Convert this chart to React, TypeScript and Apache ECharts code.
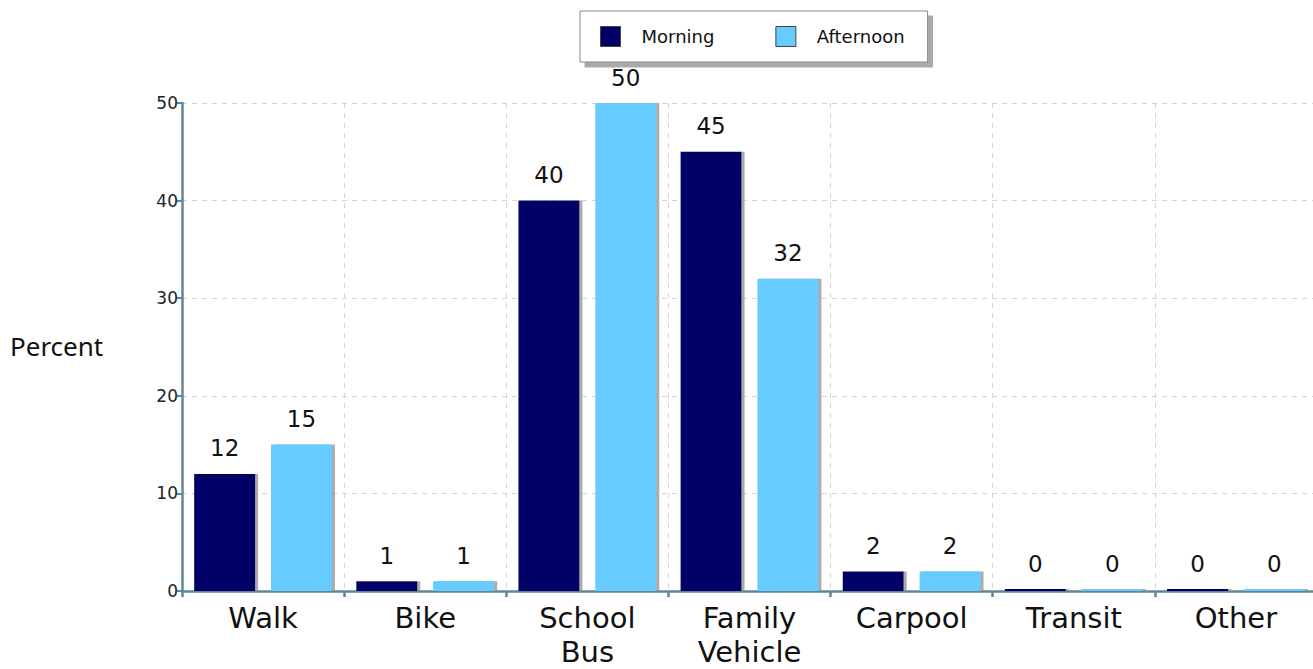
import React, { useEffect, useRef } from "react";
import * as echarts from "echarts";

const categories = ["Walk", "Bike", "School\nBus", "Family\nVehicle", "Carpool", "Transit", "Other"];
const morning = [12, 1, 40, 45, 2, 0, 0];
const afternoon = [15, 1, 50, 32, 2, 0, 0];
const yTicks = { min: 0, max: 50, interval: 10 };

const AXIS = "#5f8796";
const FONT = "DejaVu Sans, Verdana, sans-serif";

export default function App() {
  const ref = useRef<HTMLDivElement>(null);
  useEffect(() => {
    const chart = echarts.init(ref.current!, null, { renderer: "svg" });
    const barStyle = (color: string) => ({
      color,
      shadowColor: "rgba(150,150,150,0.8)",
      shadowOffsetX: 3,
      shadowOffsetY: 0,
      shadowBlur: 0,
    });
    const label = {
      show: true,
      position: "top",
      distance: 14,
      fontFamily: FONT,
      fontSize: 23,
      color: "#111",
    };
    chart.setOption({
      animation: false,
      backgroundColor: "#fff",
      textStyle: { fontFamily: FONT },
      legend: {
        top: 11,
        left: 580,
        itemWidth: 20,
        itemHeight: 20,
        itemGap: 61,
        padding: [15, 23, 15, 20],
        backgroundColor: "#fff",
        borderColor: "#888",
        borderWidth: 1,
        shadowColor: "#aaa",
        shadowOffsetX: 5,
        shadowOffsetY: 5,
        shadowBlur: 0,
        icon: "rect",
        itemStyle: { borderColor: "#444", borderWidth: 1 },
        textStyle: { fontFamily: FONT, fontSize: 18, color: "#111", padding: [0, 0, 0, 16] },
        data: ["Morning", "Afternoon"],
      },
      grid: { left: 182, top: 103, bottom: 78, right: 3, containLabel: false },
      xAxis: {
        type: "category",
        data: categories,
        axisLine: { lineStyle: { color: AXIS, width: 2.5 } },
        axisTick: { show: true, length: 6, lineStyle: { color: AXIS, width: 2.5 } },
        axisLabel: { fontFamily: FONT, fontSize: 29, color: "#111", lineHeight: 34, margin: 10 },
        splitLine: { show: true, lineStyle: { color: "#d4d4d4", type: [5, 5], width: 1 } },
      },
      yAxis: {
        type: "value",
        min: yTicks.min,
        max: yTicks.max,
        interval: yTicks.interval,
        axisLine: { show: true, lineStyle: { color: AXIS, width: 2.5 } },
        axisTick: { show: true, length: 5, lineStyle: { color: AXIS, width: 2 } },
        axisLabel: { fontFamily: FONT, fontSize: 17, color: "#222", margin: 4 },
        splitLine: { show: true, lineStyle: { color: "#d4d4d4", type: [5, 5], width: 1 } },
      },
      graphic: [
        {
          type: "text",
          x: 10,
          y: 346,
          style: {
            text: "Percent",
            fontFamily: "Noto Sans, Open Sans, sans-serif",
            fontSize: 26,
            fill: "#111",
            verticalAlign: "middle",
          },
        },
      ],
      series: [
        {
          name: "Morning",
          type: "bar",
          data: morning,
          barWidth: "37.6%",
          barGap: "26%",
          barMinHeight: 2,
          itemStyle: barStyle("#000066"),
          label,
        },
        {
          name: "Afternoon",
          type: "bar",
          data: afternoon,
          barWidth: "37.6%",
          barMinHeight: 2,
          itemStyle: barStyle("#66ccff"),
          label,
        },
      ],
    });
    return () => chart.dispose();
  }, []);
  return (
    <div
      ref={ref}
      style={{ position: "fixed", left: 0, top: 0, width: 1320, height: 669 }}
    />
  );
}
